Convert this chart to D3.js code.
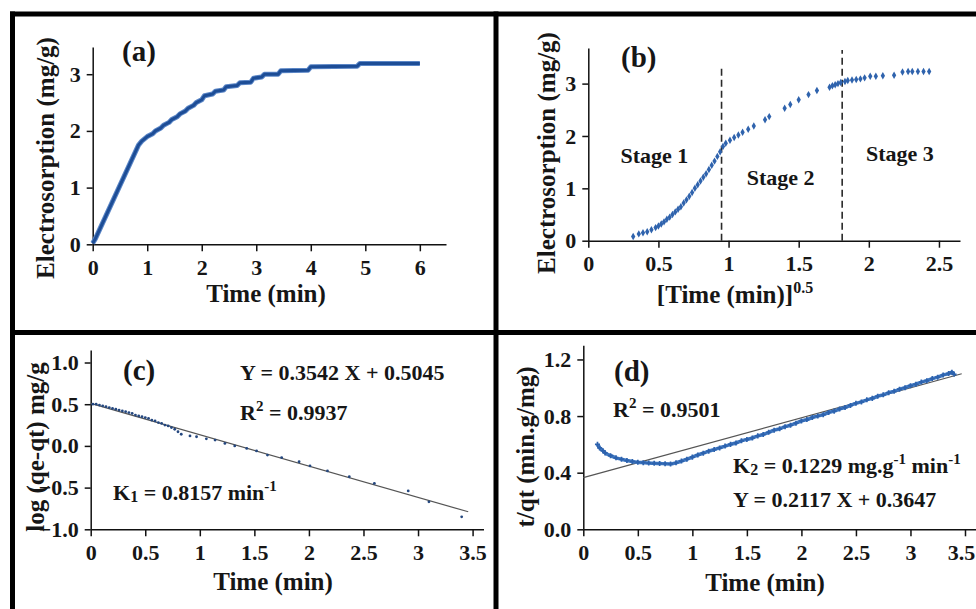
<!DOCTYPE html>
<html>
<head>
<meta charset="utf-8">
<script src="https://d3js.org/d3.v7.min.js"></script>
<style>
  body { margin: 0; background: #fff; }
  text { font-family: 'Liberation Serif', 'Times New Roman', serif; font-weight: bold; fill: #161616; }
  .axis .domain, .axis line { stroke: #111; stroke-width: 1.5px; }
  .axis text { font-size: 22px; }
  .title { font-size: 25px; }
  .plabel { font-size: 29px; }
  .note { font-size: 22px; }
</style>
</head>
<body>
<script>
// (a) electrosorption vs time
const timeA = [0, 0.05, 0.84, 0.9, 0.95, 1.0, 1.1, 1.15, 1.25, 1.3, 1.4, 1.45, 1.55, 1.6, 1.7, 1.75, 1.85, 1.9, 2.0, 2.05, 2.2, 2.25, 2.4, 2.45, 2.65, 2.7, 2.9, 2.95, 3.1, 3.15, 3.4, 3.45, 3.95, 4.0, 4.85, 4.9, 6.0];
const qA = [0.02, 0.1, 1.75, 1.82, 1.86, 1.9, 1.95, 2.0, 2.05, 2.1, 2.15, 2.2, 2.25, 2.3, 2.35, 2.4, 2.45, 2.5, 2.55, 2.62, 2.65, 2.7, 2.72, 2.78, 2.8, 2.85, 2.86, 2.93, 2.95, 3.0, 3.0, 3.06, 3.07, 3.13, 3.14, 3.19, 3.19];

// (b) electrosorption vs sqrt(time)
const sqrtB = [0.32, 0.36, 0.39, 0.42, 0.45, 0.48, 0.50, 0.52, 0.54, 0.56, 0.58, 0.60, 0.62, 0.64, 0.66, 0.68, 0.70, 0.72, 0.74, 0.76, 0.78, 0.80, 0.82, 0.84, 0.86, 0.88, 0.90, 0.92, 0.94, 0.96,
  0.98, 1.01, 1.04, 1.07, 1.10, 1.14, 1.18, 1.26, 1.29, 1.40, 1.44, 1.50, 1.57, 1.63, 1.72, 1.74, 1.76, 1.78, 1.80,
  1.83, 1.85, 1.88, 1.91, 1.94, 1.97, 2.01, 2.05, 2.10, 2.18, 2.24, 2.28, 2.31, 2.35, 2.39, 2.43];
const qB = [0.08, 0.13, 0.15, 0.17, 0.21, 0.25, 0.28, 0.32, 0.36, 0.41, 0.45, 0.50, 0.55, 0.60, 0.65, 0.72, 0.78, 0.85, 0.92, 1.00, 1.07, 1.14, 1.21, 1.28, 1.36, 1.44, 1.52, 1.61, 1.70, 1.80,
  1.86, 1.92, 1.97, 2.02, 2.07, 2.13, 2.19, 2.31, 2.37, 2.53, 2.60, 2.69, 2.79, 2.87, 2.93, 2.96, 2.98, 3.00, 3.02,
  3.04, 3.06, 3.07, 3.08, 3.09, 3.11, 3.14, 3.14, 3.15, 3.16, 3.22, 3.23, 3.23, 3.23, 3.23, 3.23];
const stageX = [0.95, 1.81];
const stageTop = [3.31, 3.64];
const stageNames = ['Stage 1', 'Stage 2', 'Stage 3'];
const stageLabelX = [0.23, 1.13, 1.98];
const stageLabelY = [1.48, 1.07, 1.52];

// (c) pseudo first order
const timeC = [0.02, 0.05, 0.08, 0.11, 0.14, 0.17, 0.2, 0.23, 0.26, 0.29, 0.32, 0.35, 0.38, 0.41, 0.44, 0.47, 0.5, 0.53, 0.56, 0.59, 0.62, 0.65, 0.68, 0.71, 0.74, 0.77, 0.80,
  0.83, 0.91, 0.97, 1.06, 1.14, 1.23, 1.32, 1.43, 1.52, 1.62, 1.75, 1.91, 2.01, 2.17, 2.37, 2.60, 2.91, 3.10, 3.40];
const logC = [0.50, 0.50, 0.49, 0.48, 0.47, 0.46, 0.45, 0.44, 0.43, 0.42, 0.41, 0.40, 0.39, 0.37, 0.36, 0.35, 0.34, 0.33, 0.31, 0.30, 0.28, 0.27, 0.25, 0.24, 0.22, 0.20, 0.17,
  0.14, 0.12, 0.11, 0.085, 0.07, 0.03, 0.0, -0.03, -0.06, -0.11, -0.14, -0.19, -0.24, -0.30, -0.37, -0.45, -0.54, -0.67, -0.85];
const fitCx = [0, 3.46];
const fitCy = [0.51, -0.79];

// (d) pseudo second order
const timeD = [0.13, 0.15, 0.18, 0.2, 0.25, 0.3, 0.35, 0.4, 0.45, 0.5, 0.55, 0.6, 0.65, 0.7, 0.75, 0.8, 0.85, 0.9, 0.95, 1.0, 1.05, 1.1, 1.15, 1.2, 1.25, 1.3, 1.35, 1.4, 1.45, 1.5, 1.55, 1.6, 1.65, 1.7, 1.75, 1.8, 1.85, 1.9, 1.95, 2.0, 2.05, 2.1, 2.15, 2.2, 2.25, 2.3, 2.35, 2.4, 2.45, 2.5, 2.55, 2.6, 2.65, 2.7, 2.75, 2.8, 2.85, 2.9, 2.95, 3.0, 3.05, 3.1, 3.15, 3.2, 3.25, 3.3, 3.35, 3.38, 3.4];
const tqD = [0.60, 0.575, 0.555, 0.54, 0.52, 0.505, 0.495, 0.486, 0.479, 0.474, 0.471, 0.468, 0.466, 0.465, 0.463, 0.462, 0.47, 0.482, 0.495, 0.51, 0.525, 0.538, 0.552, 0.563, 0.575, 0.588, 0.60, 0.61, 0.625, 0.635, 0.645, 0.66, 0.67, 0.685, 0.70, 0.71, 0.725, 0.735, 0.75, 0.765, 0.775, 0.79, 0.80, 0.81, 0.825, 0.835, 0.85, 0.86, 0.875, 0.89, 0.90, 0.915, 0.925, 0.94, 0.95, 0.965, 0.975, 0.99, 1.00, 1.015, 1.025, 1.04, 1.05, 1.065, 1.075, 1.09, 1.10, 1.11, 1.095];
const fitDSlope = 0.2117, fitDIntercept = 0.3647;
const fitDx = [0, 3.47];

const svg = d3.select('body').append('svg').attr('width', 976).attr('height', 609);

function panel(o) {
  const x = d3.scaleLinear().domain(o.xd).range(o.xr);
  const y = d3.scaleLinear().domain(o.yd).range(o.yr);
  const g = svg.append('g');
  const xa = g.append('g').attr('class', 'axis').attr('transform', `translate(0,${o.yr[0]})`)
    .call(d3.axisBottom(x).tickValues(o.xt).tickFormat(o.xf).tickSize(7).tickSizeOuter(0).tickPadding(8));
  if (o.lastDx) xa.selectAll('.tick:last-of-type text').attr('dx', o.lastDx);
  g.append('g').attr('class', 'axis').attr('transform', `translate(${o.xr[0]},0)`)
    .call(d3.axisLeft(y).tickValues(o.yt).tickFormat(o.yf).tickSize(6).tickSizeOuter(0).tickPadding(6));
  g.selectAll('.axis text').attr('fill', '#161616');
  g.append('text').attr('class', 'title').attr('text-anchor', 'middle')
    .attr('transform', `translate(${o.ytx},${o.yty}) rotate(-90)`).text(o.ytitle);
  const xt = g.append('text').attr('class', 'title').attr('text-anchor', 'middle')
    .attr('x', o.xtx).attr('y', o.xty).text(o.xtitle);
  if (o.xsup) xt.append('tspan').attr('font-size', 16).attr('dy', -10).text(o.xsup);
  g.append('text').attr('class', 'plabel').attr('x', o.px).attr('y', o.py).text(o.plabel);
  return { g, x, y };
}

const fmtInt = d3.format('d');
const fmtPlain = d => String(d);
const fmt1 = d3.format('.1f');

// panel a
const A = panel({ xd: [0, 6.48], xr: [92.7, 446], yd: [0, 3.48], yr: [244.3, 47],
  xt: [0, 1, 2, 3, 4, 5, 6], yt: [0, 1, 2, 3], xf: fmtInt, yf: fmtInt,
  ytitle: 'Electrosorption (mg/g)', ytx: 54, yty: 158, xtitle: 'Time (min)', xtx: 266, xty: 302,
  plabel: '(a)', px: 122, py: 61 });
const lineA = d3.line().x((d, i) => A.x(timeA[i])).y(d => A.y(d));
A.g.append('path').datum(qA).attr('d', lineA).attr('fill', 'none')
  .attr('stroke', '#5b86c6').attr('stroke-width', 5).attr('stroke-linejoin', 'round');
A.g.append('path').datum(qA).attr('d', lineA).attr('fill', 'none')
  .attr('stroke', '#1d4d96').attr('stroke-width', 3).attr('stroke-linejoin', 'round');

// panel b
const B = panel({ xd: [0, 2.65], xr: [588.3, 960], yd: [0, 3.68], yr: [240.7, 48],
  xt: [0, 0.5, 1, 1.5, 2, 2.5], yt: [0, 1, 2, 3], xf: fmtPlain, yf: fmtInt,
  ytitle: 'Electrosorption (mg/g)', ytx: 555, yty: 153, xtitle: '[Time (min)]', xsup: '0.5', xtx: 735, xty: 303,
  plabel: '(b)', px: 621, py: 67 });
stageX.forEach((s, i) => {
  B.g.append('line').attr('x1', B.x(s)).attr('x2', B.x(s)).attr('y1', B.y(0)).attr('y2', B.y(stageTop[i]))
    .attr('stroke', '#2a2a2a').attr('stroke-width', 1.6).attr('stroke-dasharray', '7,4');
});
B.g.selectAll('.pt').data(qB).enter().append('path')
  .attr('transform', (d, i) => `translate(${B.x(sqrtB[i])},${B.y(d)})`)
  .attr('d', d3.symbol().type(d3.symbolDiamond).size(16)).attr('fill', '#2f63ad');
stageNames.forEach((s, i) => {
  B.g.append('text').attr('class', 'note').attr('x', B.x(stageLabelX[i])).attr('y', B.y(stageLabelY[i])).text(s);
});

// panel c
const C = panel({ xd: [0, 3.6], xr: [90.7, 483.5], yd: [-1.0, 1.15], yr: [529.3, 350],
  xt: [0, 0.5, 1, 1.5, 2, 2.5, 3, 3.5], yt: [-1.0, -0.5, 0.0, 0.5, 1.0], xf: fmtPlain, yf: fmt1,
  ytitle: 'log (qe-qt) mg/g', ytx: 44, yty: 447, xtitle: 'Time (min)', xtx: 273, xty: 590,
  plabel: '(c)', px: 123, py: 380 });
C.g.append('line').attr('x1', C.x(fitCx[0])).attr('y1', C.y(fitCy[0])).attr('x2', C.x(fitCx[1])).attr('y2', C.y(fitCy[1]))
  .attr('stroke', '#555').attr('stroke-width', 1.2);
C.g.selectAll('.pt').data(logC).enter().append('circle')
  .attr('cx', (d, i) => C.x(timeC[i])).attr('cy', d => C.y(d)).attr('r', 1.4).attr('fill', '#24477f');
C.g.append('text').attr('class', 'note').attr('x', 240).attr('y', 380).text('Y = 0.3542 X + 0.5045');
const r2c = C.g.append('text').attr('class', 'note').attr('x', 240).attr('y', 420).text('R');
r2c.append('tspan').attr('font-size', 15).attr('dy', -9).text('2');
r2c.append('tspan').attr('dy', 9).text(' = 0.9937');
const k1 = C.g.append('text').attr('class', 'note').attr('x', 113).attr('y', 500).text('K');
k1.append('tspan').attr('font-size', 16).attr('dy', 2).text('1');
k1.append('tspan').attr('dy', -2).text(' = 0.8157 min');
k1.append('tspan').attr('font-size', 15).attr('dy', -9).text('-1');

// panel d
const D = panel({ xd: [0, 3.6], xr: [583.3, 975.9], yd: [0, 1.3], yr: [529.3, 345.3],
  xt: [0, 0.5, 1, 1.5, 2, 2.5, 3, 3.5], yt: [0, 0.4, 0.8, 1.2], xf: fmtPlain, yf: fmt1, lastDx: -4,
  ytitle: 't/qt (min.g/mg)', ytx: 534, yty: 447, xtitle: 'Time (min)', xtx: 765, xty: 591,
  plabel: '(d)', px: 614, py: 381 });
D.g.append('line').attr('x1', D.x(fitDx[0])).attr('y1', D.y(fitDIntercept + fitDSlope * fitDx[0]))
  .attr('x2', D.x(fitDx[1])).attr('y2', D.y(fitDIntercept + fitDSlope * fitDx[1]))
  .attr('stroke', '#555').attr('stroke-width', 1.2);
const lineD = d3.line().x((d, i) => D.x(timeD[i])).y(d => D.y(d)).curve(d3.curveMonotoneX);
D.g.append('path').datum(tqD).attr('d', lineD).attr('fill', 'none')
  .attr('stroke', '#3f78c2').attr('stroke-width', 3.5).attr('stroke-linejoin', 'round');
D.g.selectAll('.pt').data(tqD).enter().append('path')
  .attr('transform', (d, i) => `translate(${D.x(timeD[i])},${D.y(d)})`)
  .attr('d', d3.symbol().type(d3.symbolCross).size(14)).attr('fill', '#2d62ad');
const r2d = D.g.append('text').attr('class', 'note').attr('x', 613).attr('y', 417).text('R');
r2d.append('tspan').attr('font-size', 15).attr('dy', -9).text('2');
r2d.append('tspan').attr('dy', 9).text(' = 0.9501');
const k2 = D.g.append('text').attr('class', 'note').attr('x', 733).attr('y', 473).text('K');
k2.append('tspan').attr('font-size', 16).attr('dy', 2).text('2');
k2.append('tspan').attr('dy', -2).text(' = 0.1229 mg.g');
k2.append('tspan').attr('font-size', 15).attr('dy', -9).text('-1');
k2.append('tspan').attr('dy', 9).text(' min');
k2.append('tspan').attr('font-size', 15).attr('dy', -9).text('-1');
D.g.append('text').attr('class', 'note').attr('x', 733).attr('y', 507).text('Y = 0.2117 X + 0.3647');

// panel frame
const frame = svg.append('g').attr('stroke', '#000').attr('stroke-width', 5);
frame.append('line').attr('x1', 10).attr('x2', 976).attr('y1', 14).attr('y2', 14);
frame.append('line').attr('x1', 12.5).attr('x2', 12.5).attr('y1', 11.5).attr('y2', 609);
frame.append('line').attr('x1', 496).attr('x2', 496).attr('y1', 11.5).attr('y2', 609);
frame.append('line').attr('x1', 10).attr('x2', 976).attr('y1', 332.5).attr('y2', 332.5);
</script>
</body>
</html>
